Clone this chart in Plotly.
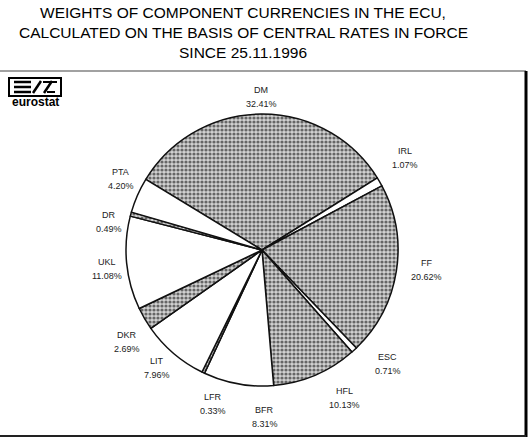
import math
import plotly.graph_objects as go

# ---- data ----
currencies = ["DM", "IRL", "FF", "ESC", "HFL", "BFR", "LFR", "LIT", "DKR", "UKL", "DR", "PTA"]
weights = [32.41, 1.07, 20.62, 0.71, 10.13, 8.31, 0.33, 7.96, 2.69, 11.08, 0.49, 4.20]
shaded = [True, False, True, False, True, False, True, False, True, False, True, False]
# small angular nudges (deg) for label placement, as in the original layout
label_nudge = [0, -2.5, -2, -5, -6, -11, -8, 1, -4, -1.5, -5, 3]
label_radius = [153, 170, 166, 170, 170, 167, 162, 158, 164, 156, 156, 158]

W, H = 529, 438
CX, CY, R = 262, 250, 136
ROT = -58.7


def px(x):
    return x / W


def py(y):
    return 1 - y / H


fills = ["#b0b0b0" if s else "#ffffff" for s in shaded]
patterns = ["." if s else "" for s in shaded]

fig = go.Figure(
    go.Pie(
        labels=currencies,
        values=weights,
        sort=False,
        direction="clockwise",
        rotation=ROT,
        textinfo="none",
        hoverinfo="label+value",
        showlegend=False,
        marker=dict(
            colors=fills,
            line=dict(color="#111111", width=1.5),
            pattern=dict(
                shape=patterns,
                fgcolor="#666666",
                bgcolor=["#d2d2d2" if s else "#ffffff" for s in shaded],
                size=4,
                solidity=0.5,
            ),
        ),
        domain=dict(x=[px(CX - R), px(CX + R)], y=[py(CY + R), py(CY - R)]),
    )
)

# labels computed from cumulative slice angles
total = sum(weights)
annotations = []
cum = 0.0
for name, w, nud, rad in zip(currencies, weights, label_nudge, label_radius):
    mid = ROT + (cum + w / 2) / total * 360 + nud
    cum += w
    a = math.radians(mid)
    lx = CX + rad * math.sin(a)
    ly = CY - rad * math.cos(a)
    for txt, dy in ((name, -7), (f"{w:.2f}%", 7)):
        annotations.append(dict(
            x=px(lx), y=py(ly + dy), xref="paper", yref="paper",
            text=txt, showarrow=False, xanchor="center", yanchor="middle",
            font=dict(family="Liberation Sans, Arial", size=9, color="#222222"),
        ))

# title
title_lines = ["WEIGHTS OF COMPONENT CURRENCIES IN THE ECU,",
               "CALCULATED ON THE BASIS OF CENTRAL RATES IN FORCE",
               "SINCE 25.11.1996"]
for i, t in enumerate(title_lines):
    annotations.append(dict(
        x=px(243), y=py(13 + 20 * i), xref="paper", yref="paper",
        text=t, showarrow=False, xanchor="center", yanchor="middle",
        font=dict(family="Liberation Sans, Arial", size=15.5, color="#000000"),
    ))

# logo text
annotations.append(dict(
    x=px(35), y=py(102), xref="paper", yref="paper", text="<b>eurostat</b>",
    showarrow=False, xanchor="center", yanchor="middle",
    font=dict(family="Liberation Sans, Arial", size=12, color="#000000"),
))

shapes = []
# frame
shapes.append(dict(type="line", xref="paper", yref="paper", x0=px(0), x1=px(526),
                   y0=py(71), y1=py(71), line=dict(color="#444444", width=1.2)))
shapes.append(dict(type="line", xref="paper", yref="paper", x0=px(526), x1=px(526),
                   y0=py(71), y1=py(437), line=dict(color="#000000", width=3)))
shapes.append(dict(type="line", xref="paper", yref="paper", x0=px(0), x1=px(526),
                   y0=py(436), y1=py(436), line=dict(color="#222222", width=2)))
# logo box
shapes.append(dict(type="rect", xref="paper", yref="paper", x0=px(9), x1=px(61),
                   y0=py(96), y1=py(78), line=dict(color="#000000", width=2)))
for yy in (82, 87, 92):
    shapes.append(dict(type="line", xref="paper", yref="paper", x0=px(14), x1=px(31),
                       y0=py(yy), y1=py(yy), line=dict(color="#000000", width=2.5)))
for x0 in (33, 44):
    shapes.append(dict(type="line", xref="paper", yref="paper", x0=px(x0), x1=px(x0 + 8),
                       y0=py(93), y1=py(81), line=dict(color="#000000", width=2.5)))
shapes.append(dict(type="line", xref="paper", yref="paper", x0=px(43), x1=px(57),
                   y0=py(82), y1=py(82), line=dict(color="#000000", width=2)))
shapes.append(dict(type="line", xref="paper", yref="paper", x0=px(47), x1=px(55),
                   y0=py(92), y1=py(92), line=dict(color="#000000", width=2)))

fig.update_layout(
    width=W, height=H,
    margin=dict(l=0, r=0, t=0, b=0),
    paper_bgcolor="#ffffff",
    plot_bgcolor="#ffffff",
    annotations=annotations,
    shapes=shapes,
)

fig.write_html("out.html")
